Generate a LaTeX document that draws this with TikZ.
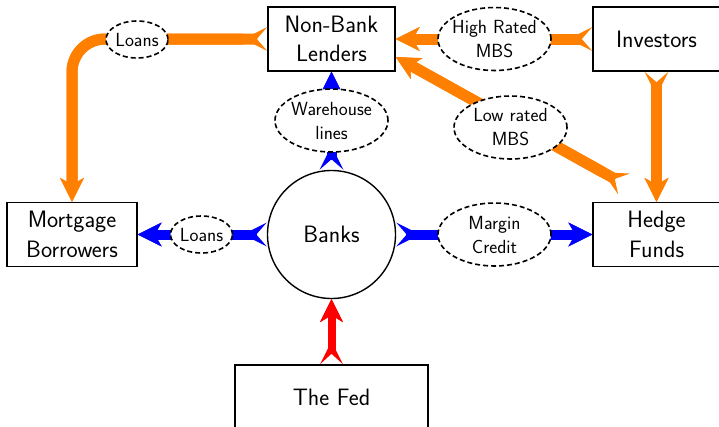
\documentclass[tikz,border=0pt]{standalone}
\usetikzlibrary{arrows.meta,shapes.geometric}
\newcommand\dgBig{\sffamily\fontsize{23.7}{29.5}\selectfont}
\newcommand\dgSmall{\sffamily\fontsize{19}{24}\selectfont}
\definecolor{flowor}{RGB}{255,128,0}
\begin{document}
\begin{tikzpicture}[x=1pt,y=-1pt,
  box/.style={draw, line width=1.4pt, minimum width=127pt, minimum height=64pt,
    inner sep=4pt, align=center, font=\dgBig},
  bankc/.style={circle, draw, line width=1.4pt, minimum size=128pt, inner sep=0pt, font=\dgBig},
  lbl/.style={ellipse, draw, dash pattern=on 5pt off 3pt, line width=1.6pt, fill=white,
    inner xsep=-8pt, inner ysep=-2pt, minimum width=113pt, minimum height=63pt,
    align=center, font=\dgSmall},
  lblsm/.style={lbl, minimum width=62pt, minimum height=37pt},
  flow/.style={line width=#1, shorten <=10pt,
    arrows={-{Stealth[length=24pt,width=24pt,inset=7pt,line width=0pt]}},
    postaction={draw, shorten <=0pt,
      arrows={{Stealth[length=24pt,width=24pt,inset=10.5pt,line width=0pt,reversed]}-{Stealth[length=24pt,width=24pt,inset=7pt,line width=0pt]}}}},
  oflow/.style={flow=11pt, draw=flowor},
  bflow/.style={flow=10pt, draw=blue},
  rflow/.style={line width=8pt, draw=red, shorten <=10pt,
    arrows={-{Stealth[length=23pt,width=23pt,inset=7pt,line width=0pt]}},
    postaction={draw, shorten <=0pt,
      arrows={{Stealth[length=23pt,width=23pt,inset=10.5pt,line width=0pt,reversed]}-{Stealth[length=23pt,width=23pt,inset=7pt,line width=0pt]}}}}
]
\path[use as bounding box, clip] (0,0) rectangle (719,426);

% main nodes
\node[box] (nbl) at (331.5,39) {Non-Bank\\Lenders};
\node[box] (inv) at (656.5,39) {Investors};
\node[box, minimum width=130pt] (mb) at (72,234.5) {Mortgage\\Borrowers};
\node[box] (hf) at (656.5,234.5) {Hedge\\Funds};
\node[bankc] (banks) at (331.5,234.5) {Banks};
\node[box, minimum width=193pt] (fed) at (331.5,397) {The Fed};

\coordinate (lrstart) at (624,184);
\coordinate (lrend) at ([yshift=-18pt]nbl.east);

% flows
\draw[oflow, rounded corners=33pt] (nbl.west) -| (mb.north);
\draw[oflow] (inv.west) -- (nbl.east);
\draw[oflow] (lrstart) -- (lrend);
\draw[oflow] (inv.south) -- (hf.north);
\draw[bflow] (banks.north) -- (nbl.south);
\draw[bflow] (banks.west) -- (mb.east);
\draw[bflow] (banks.east) -- (hf.west);
\draw[rflow] (fed.north) -- (banks.south);

% labels on the flows
\node[lblsm] (loansA) at (137,39.5) {Loans};
\node[lbl] (hrmbs) at (494.5,39) {High Rated\\MBS};
\node[lbl] (wh) at (331.5,120.5) {Warehouse\\lines};
\node[lbl] (lrmbs) at (510.5,127.5) {Low rated\\MBS};
\node[lblsm] (loansB) at (201.5,234.5) {Loans};
\node[lbl] (mc) at (494.5,234.5) {Margin\\Credit};
\end{tikzpicture}
\end{document}
